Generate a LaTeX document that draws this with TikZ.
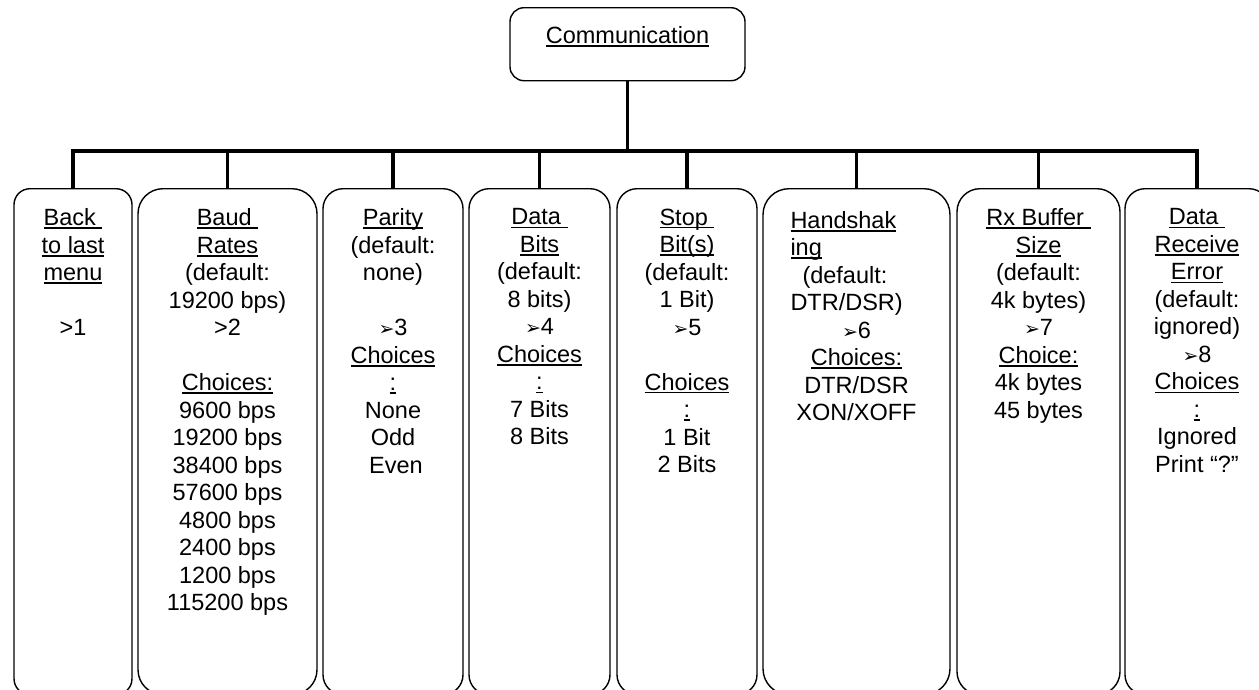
\documentclass[tikz,border=0pt]{standalone}
\usepackage{fontspec}
\setmainfont{Liberation Sans}
\newfontfamily\symfont{DejaVu Sans}
\usepackage{tikz}
\usetikzlibrary{positioning}

\newcommand\hdr[1]{\leavevmode\setbox0\hbox{#1}\rlap{\rule[-3.3pt]{\wd0}{1.6pt}}\box0}
\newcommand\pick{\leavevmode{\symfont\fontsize{19}{19}\selectfont ➢}}

\tikzset{
  menubox/.style={draw, line width=1.4pt, rounded corners=#1, anchor=north, inner sep=0pt},
  menutext/.style={anchor=north, inner sep=0pt, align=center, font=\fontsize{23.5}{27.5}\selectfont},
  bus/.style={line width=3.6pt}
}

\begin{document}
\begin{tikzpicture}[x=1pt, y=-1pt]
    \clip (0,0) rectangle (1259,689);
\draw (627.5,7) node [menubox=14pt, minimum width=235pt, minimum height=73pt] (comm) {};
\node[menutext] (commtxt) at ([yshift=-19.5pt]comm.north) {\hdr{Communication}};

\foreach \n / \x / \w / \r in {1/73/118/16, 2/227.5/179/25, 3/393/140/20, 4/539.5/141/20,
                               5/687/140/20, 6/856.5/187/26, 7/1038.5/163/23, 8/1197/144/20}
  \draw (\x, 188) node [menubox=\r pt, minimum width=\w pt, minimum height=506pt] (B\n) {};

%\node at (0,151) {bus};
\coordinate (bus) at (0,151);
\draw[bus] (B1.north) -- (B1.north |- bus) -- (B8.north |- bus) -- (B8.north);
\draw[bus] (comm.south) -- (comm.south |- bus);
\foreach \n in {2,...,7}
  \draw[bus] (B\n.north |- bus) -- (B\n.north);

\node[menutext] (T1) at ([yshift=-20.5pt]B1.north)
  {\hdr{Back\ }\\ \hdr{to last}\\ \hdr{menu}\\[27.5pt] >1};
\node[menutext] (T2) at ([yshift=-20.5pt]B2.north)
  {\hdr{Baud\ }\\ \hdr{Rates}\\ (default:\\ 19200 bps)\\ >2\\[27.5pt]
   \hdr{Choices:}\\ 9600 bps\\ 19200 bps\\ 38400 bps\\ 57600 bps\\
   4800 bps\\ 2400 bps\\ 1200 bps\\ 115200 bps};
\node[menutext] (T3) at ([yshift=-20.5pt]B3.north)
  {\hdr{Parity}\\ (default:\\ none)\\[27.5pt] \pick3\\ \hdr{Choices}\\ \hdr{:}\\
   None\\ Odd\\ \hspace*{6pt}Even};
\node[menutext] (T4) at ([yshift=-20.5pt]B4.north)
  {\hdr{Data\ }\\ \hdr{Bits}\\ (default:\\ 8 bits)\\ \pick4\\ \hdr{Choices}\\ \hdr{:}\\
   7 Bits\\ 8 Bits};
\node[menutext] (T5) at ([yshift=-20.5pt]B5.north)
  {\hdr{Stop\ }\\ \hdr{Bit(s)}\\ (default:\\ 1 Bit)\\ \pick5\\[27.5pt] \hdr{Choices}\\ \hdr{:}\\
   1 Bit\\ 2 Bits};
\node[menutext, text width=132pt] (T6) at ([yshift=-23pt]B6.north)
  {\makebox[\linewidth][l]{\hdr{Handshak}}\\ \makebox[\linewidth][l]{\hdr{ing}}\\
   \makebox[\linewidth][l]{\hspace{12pt}(default:}\\ \makebox[\linewidth][l]{DTR/DSR)}\\
   \pick6\\ \hdr{Choices:}\\ DTR/DSR\\ XON/XOFF};
\node[menutext] (T7) at ([yshift=-20.5pt]B7.north)
  {\hdr{Rx Buffer\ }\\ \hdr{Size}\\ (default:\\ 4k bytes)\\ \pick7\\ \hdr{Choice:}\\
   4k bytes\\ 45 bytes};
\node[menutext] (T8) at ([yshift=-20.5pt]B8.north)
  {\hdr{Data\ }\\ \hdr{Receive}\\ \hdr{Error}\\ (default:\\ ignored)\\ \pick8\\
   \hdr{Choices}\\ \hdr{:}\\ Ignored\\ Print “?”};
\end{tikzpicture}
\end{document}
